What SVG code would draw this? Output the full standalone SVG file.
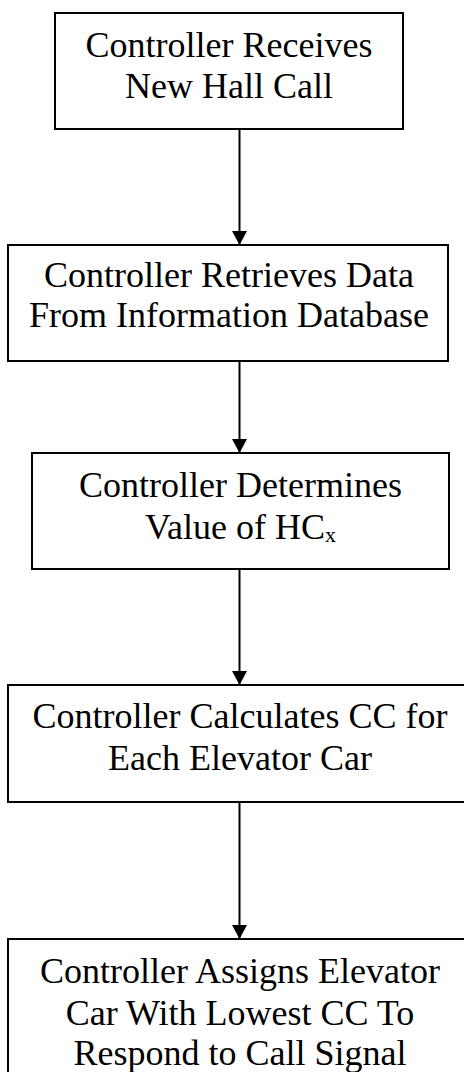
<svg xmlns="http://www.w3.org/2000/svg" width="464" height="1072" viewBox="0 0 464 1072">
<style>
.box{fill:#fff;stroke:#000;stroke-width:2}
.t{font-family:'Liberation Serif','Times New Roman',serif;font-size:36px;fill:#000;text-anchor:middle}
.c{stroke:#000;stroke-width:2;fill:none}
</style>
<defs>
<marker id="ah" markerWidth="14" markerHeight="15" refX="14" refY="7.5" orient="auto" markerUnits="userSpaceOnUse">
<path d="M0,0 L14,7.5 L0,15 Z" fill="#000"/>
</marker>
</defs>
<rect width="464" height="1072" fill="#fff"/>
<g id="connectors">
<line class="c" x1="239.5" y1="129" x2="239.5" y2="245" marker-end="url(#ah)"/>
<line class="c" x1="239.5" y1="361" x2="239.5" y2="453" marker-end="url(#ah)"/>
<line class="c" x1="239.5" y1="569" x2="239.5" y2="685" marker-end="url(#ah)"/>
<line class="c" x1="239.5" y1="802" x2="239.5" y2="939" marker-end="url(#ah)"/>
</g>
<g id="n1">
<rect class="box" x="55" y="13" width="348" height="116"/>
<text class="t" x="229" y="57">Controller Receives</text>
<text class="t" x="229" y="98">New Hall Call</text>
</g>
<g id="n2">
<rect class="box" x="8" y="245" width="440" height="116"/>
<text class="t" x="229" y="287">Controller Retrieves Data</text>
<text class="t" x="229" y="327">From Information Database</text>
</g>
<g id="n3">
<rect class="box" x="32" y="453" width="417" height="116"/>
<text class="t" x="240.5" y="497">Controller Determines</text>
<text class="t" x="240.5" y="539">Value of HC<tspan font-size="22" dy="3">x</tspan></text>
</g>
<g id="n4">
<rect class="box" x="8" y="685" width="464" height="117"/>
<text class="t" x="240" y="728">Controller Calculates CC for</text>
<text class="t" x="240" y="770">Each Elevator Car</text>
</g>
<g id="n5">
<rect class="box" x="8" y="939" width="464" height="150"/>
<text class="t" x="240" y="983">Controller Assigns Elevator</text>
<text class="t" x="240" y="1025">Car With Lowest CC To</text>
<text class="t" x="240" y="1065">Respond to Call Signal</text>
</g>
</svg>
